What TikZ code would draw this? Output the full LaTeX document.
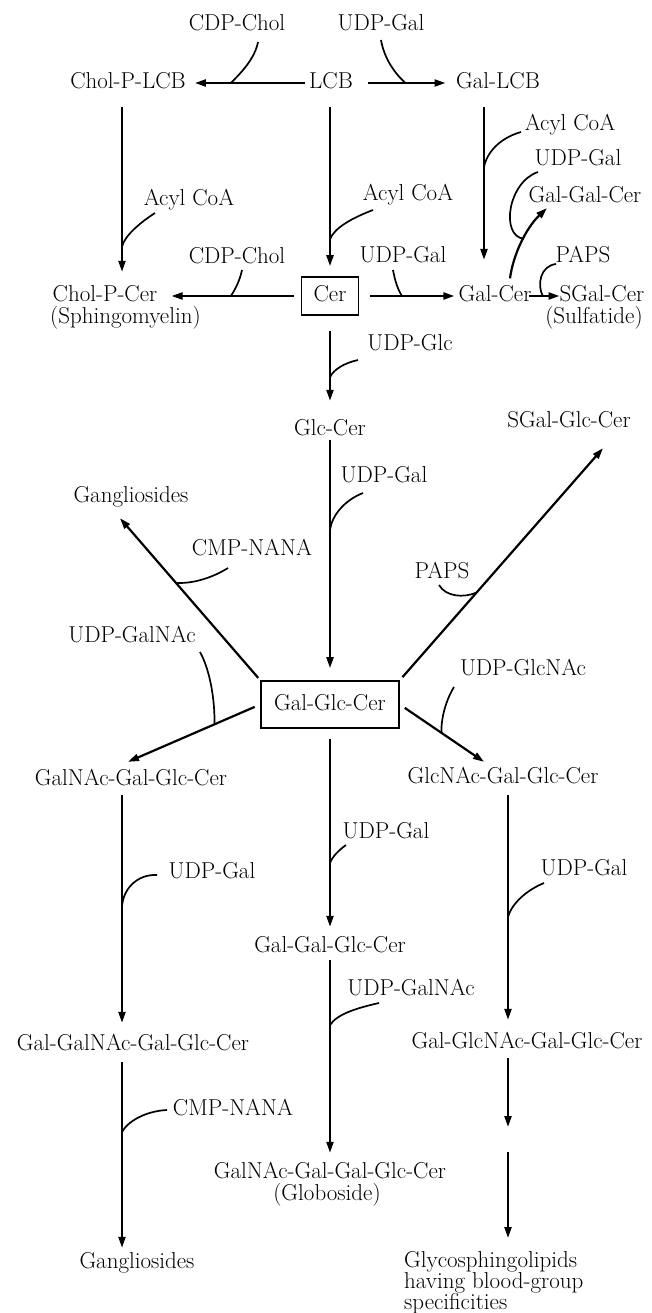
\documentclass[tikz,border=0pt]{standalone}
\usepackage{fontspec}
\usetikzlibrary{arrows.meta}
\newcommand{\lblfnt}{\fontsize{23}{23}\selectfont\addfontfeatures{FakeStretch=1.05,FakeBold=1.0}}
\newcommand{\lblfntm}{\fontsize{23}{21}\selectfont\addfontfeatures{FakeStretch=1.05,FakeBold=1.0}}
\begin{document}
\begin{tikzpicture}[x=1pt,y=-1pt,
  lbl/.style={font=\lblfnt, inner sep=0pt, text height=15pt, text depth=4pt},
  lblm/.style={font=\lblfntm, inner sep=0pt, align=left},
  boxed/.style={lbl, draw, line width=1.6pt},
  main/.style={line width=2.2pt, -{Triangle[length=11pt,width=7pt]}},
  cat/.style={line width=1.7pt}
]
\useasboundingbox (0,0) rectangle (652,1313);

% ---------- nodes ----------
\node[lbl] (cdpchol1) at (237,25) {CDP-Chol};
\node[lbl] (udpgal1) at (381,25) {UDP-Gal};
\node[lbl] (cholplcb) at (128,83) {Chol-P-LCB};
\node[lbl] (lcb) at (331,83) {LCB};
\node[lbl] (gallcb) at (498,83) {Gal-LCB};
\node[lbl] (acyl3) at (570,125) {Acyl CoA};
\node[lbl] (udpgal2) at (578,160) {UDP-Gal};
\node[lbl] (galgalcer) at (585,197) {Gal-Gal-Cer};
\node[lbl] (acyl1) at (189,200) {Acyl CoA};
\node[lbl] (acyl2) at (408,195) {Acyl CoA};
\node[lbl] (cdpchol2) at (237,258) {CDP-Chol};
\node[lbl] (udpgal3) at (403,257) {UDP-Gal};
\node[lbl] (paps1) at (583,257) {PAPS};
\node[lbl] (cholpcer) at (105,296) {Chol-P-Cer};
\node[lbl, anchor=west] (sphingo) at (50,318) {(Sphingomyelin)};
\node[boxed, minimum width=57pt, minimum height=38pt] (cer) at (330,296) {Cer};
\node[lbl] (galcer) at (495,296) {Gal-Cer};
\node[lbl] (sgalcer) at (602,296) {SGal-Cer};
\node[lbl] (sulfatide) at (594,318) {(Sulfatide)};
\node[lbl] (udpglc) at (410,345) {UDP-Glc};
\node[lbl] (glccer) at (330,430) {Glc-Cer};
\node[lbl] (sgalglccer) at (569,422) {SGal-Glc-Cer};
\node[lbl] (udpgal4) at (384,477) {UDP-Gal};
\node[lbl] (gangl1) at (131,497) {Gangliosides};
\node[lbl] (cmpnana1) at (252,550) {CMP-NANA};
\node[lbl] (paps2) at (442,573) {PAPS};
\node[lbl] (udpgalnac1) at (132,637) {UDP-GalNAc};
\node[lbl] (udpglcnac) at (523,670) {UDP-GlcNAc};
\node[boxed, minimum width=138pt, minimum height=47pt] (galglccer) at (330,704.5) {Gal-Glc-Cer};
\node[lbl] (galnacgalglccer) at (131,780) {GalNAc-Gal-Glc-Cer};
\node[lbl] (glcnacgalglccer) at (503,778) {GlcNAc-Gal-Glc-Cer};
\node[lbl] (udpgal5) at (386,833) {UDP-Gal};
\node[lbl] (udpgal6) at (212,873) {UDP-Gal};
\node[lbl] (udpgal7) at (584,870) {UDP-Gal};
\node[lbl] (galgalglccer) at (330,947) {Gal-Gal-Glc-Cer};
\node[lbl] (udpgalnac2) at (411,990) {UDP-GalNAc};
\node[lbl] (galgalnac) at (133,1045) {Gal-GalNAc-Gal-Glc-Cer};
\node[lbl] (galglcnac) at (527,1043) {Gal-GlcNAc-Gal-Glc-Cer};
\node[lbl] (cmpnana2) at (233,1110) {CMP-NANA};
\node[lbl] (globo) at (330,1173) {GalNAc-Gal-Gal-Glc-Cer};
\node[lbl] (globoside) at (327,1195) {(Globoside)};
\node[lbl] (gangl2) at (137,1263) {Gangliosides};
\node[lblm, anchor=north west] (glyco) at (404,1251) {Glycosphingolipids\\having blood-group\\specificities};
\coordinate (mid) at (508,1140);

% ---------- main reactions ----------
\draw[main, shorten <=3.5pt, shorten >=9pt] (lcb.west) -- coordinate[pos=0.635] (j1) (cholplcb.east);
\draw[main, shorten <=14.5pt, shorten >=10.5pt] (lcb.east) -- coordinate[pos=0.51] (j2) (gallcb.west);
\draw[main, shorten <=14.5pt, shorten >=14.5pt] ([xshift=-6pt]cholplcb.south) -- coordinate[pos=0.796] (j3) ([xshift=17pt]cholpcer.north);
\draw[main, shorten <=14.5pt, shorten >=10pt] ([xshift=-1pt]lcb.south) -- coordinate[pos=0.8] (j4) (cer.north);
\draw[main, shorten <=14.5pt, shorten >=26.5pt] ([xshift=-14pt]gallcb.south) -- coordinate[pos=0.384] (j5) ([xshift=-11pt]galcer.north);
\draw[main, shorten <=6.5pt, shorten >=14pt] (cer.west) -- coordinate[pos=0.488] (j6) (cholpcer.east);
\draw[main, shorten <=10.5pt, shorten >=4pt] (cer.east) -- coordinate[pos=0.431] (j7) (galcer.west);
\draw[main, shorten <=8pt, shorten >=2pt] ([xshift=14pt]galcer.north) .. controls (513,255) and (526,228) .. coordinate[pos=0.55] (j8) ([xshift=20pt]galgalcer.south west);
\draw[main, shorten <=-3pt] (galcer.east) -- coordinate[pos=0.4] (j9) (sgalcer.west);
\draw[main, shorten <=15pt, shorten >=19.5pt] (cer.south) -- coordinate[pos=0.588] (j10) (glccer.north);
\draw[main, shorten >=12pt] (glccer.south) -- coordinate[pos=0.375] (j11) (galglccer.north);
\draw[main, shorten <=3pt] (galglccer.north west) -- coordinate[pos=0.601] (j12) ([xshift=-11pt,yshift=-11.5pt]gangl1.south);
\draw[main, shorten <=4pt] (galglccer.north east) -- coordinate[pos=0.378] (j13) ([xshift=34pt,yshift=-16.5pt]sgalglccer.south);
\draw[main, shorten <=6pt] (galglccer.west) -- coordinate[pos=0.346] (j14) ([xshift=-3pt,yshift=8.5pt]galnacgalglccer.north);
\draw[main, shorten <=6pt] (galglccer.east) -- coordinate[pos=0.494] (j15) ([xshift=-19pt,yshift=6.5pt]glcnacgalglccer.north);
\draw[main, shorten <=10pt, shorten >=10.5pt] (galglccer.south) -- coordinate[pos=0.644] (j16) (galgalglccer.north);
\draw[main, shorten <=5.5pt, shorten >=12.5pt] ([xshift=-9pt]galnacgalglccer.south) -- coordinate[pos=0.478] (j17) ([xshift=-11pt]galgalnac.north);
\draw[main, shorten <=7.5pt, shorten >=5.5pt] ([xshift=-11pt]galgalnac.south) -- coordinate[pos=0.389] (j20) ([xshift=-15pt]gangl2.north);
\draw[main, shorten <=7.5pt, shorten >=13.5pt] ([xshift=5pt]glcnacgalglccer.south) -- coordinate[pos=0.526] (j18) ([xshift=-19pt]galglcnac.north);
\draw[main, shorten <=3.5pt, shorten >=10.5pt] (galgalglccer.south) -- coordinate[pos=0.331] (j19) (globo.north);
\draw[main, shorten <=5.5pt, shorten >=13pt] ([xshift=-19pt]galglcnac.south) -- (mid);
\draw[main, shorten <=12pt, shorten >=13pt] (mid) -- ([xshift=104pt]glyco.north west);

% ---------- co-substrate curves ----------
\coordinate (s1) at (258,42);
\coordinate (s2) at (381,40);
\coordinate (s3) at (155,213);
\coordinate (s4) at (373,210);
\coordinate (s5) at (521,132);
\coordinate (s6) at (538,172);
\coordinate (s7) at (242,270);
\coordinate (s8) at (393,270);
\coordinate (s9) at (556,264);
\coordinate (s10) at (358,360);
\coordinate (s11) at (363,493);
\coordinate (s12) at (228,568);
\coordinate (s13) at (439,585);
\coordinate (s14) at (200,652);
\coordinate (s15) at (454,687);
\coordinate (s16) at (346,845);
\coordinate (s17) at (157,875);
\coordinate (s18) at (544,883);
\coordinate (s19) at (379,1003);
\coordinate (s20) at (167,1110);

\draw[cat] (s1) .. controls (255,58) and (242,72) .. (j1);
\draw[cat] (s2) .. controls (384,58) and (395,74) .. (j2);
\draw[cat] (s3) .. controls (138,224) and (124,237) .. (j3);
\draw[cat] (s4) .. controls (352,218) and (334,228) .. (j4);
\draw[cat] (s5) .. controls (500,138) and (487,152) .. (j5);
\draw[cat] (s6) .. controls (508,182) and (500,236) .. (j8);
\draw[cat] (s7) .. controls (240,280) and (235,290) .. (j6);
\draw[cat] (s8) .. controls (395,281) and (398,290) .. (j7);
\draw[cat] (s9) .. controls (540,266) and (537,285) .. (j9);
\draw[cat] (s10) .. controls (344,363) and (333,370) .. (j10);
\draw[cat] (s11) .. controls (345,500) and (332,515) .. (j11);
\draw[cat] (s12) .. controls (212,578) and (192,584) .. (j12);
\draw[cat] (s13) .. controls (446,597) and (464,598) .. (j13);
\draw[cat] (s14) .. controls (210,670) and (215,700) .. (j14);
\draw[cat] (s15) .. controls (446,700) and (441,718) .. (j15);
\draw[cat] (s16) .. controls (339,850) and (332,857) .. (j16);
\draw[cat] (s17) .. controls (138,874) and (123,888) .. (j17);
\draw[cat] (s18) .. controls (527,890) and (512,903) .. (j18);
\draw[cat] (s19) .. controls (357,1008) and (337,1014) .. (j19);
\draw[cat] (s20) .. controls (146,1111) and (128,1121) .. (j20);
\end{tikzpicture}
\end{document}
